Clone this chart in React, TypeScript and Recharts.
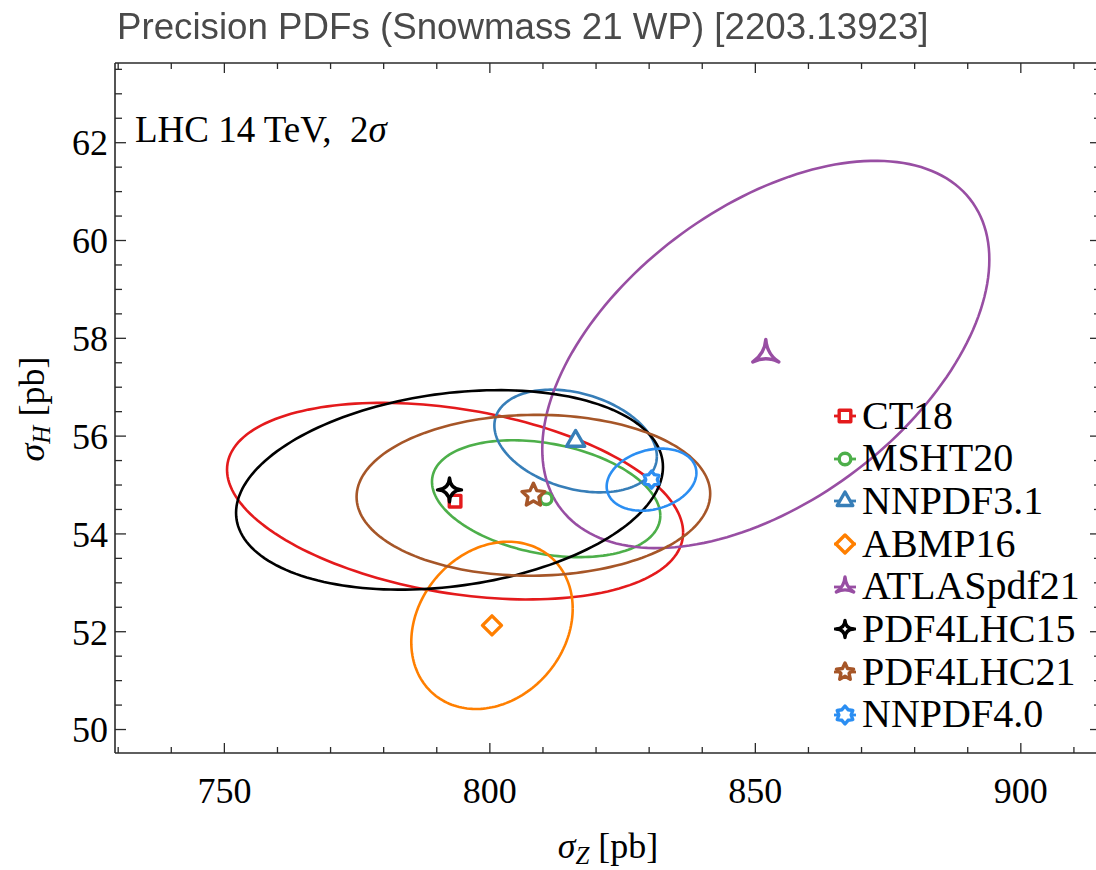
import React from 'react';
import { ComposedChart, Scatter, XAxis, YAxis, Legend, Label } from 'recharts';

// ---------------- data ----------------
const pdfNames = ['CT18', 'MSHT20', 'NNPDF3.1', 'ABMP16', 'ATLASpdf21', 'PDF4LHC15', 'PDF4LHC21', 'NNPDF4.0'];
// central values
const sigmaZ = [793.45, 810.6, 816.15, 800.4, 851.97, 792.4, 808.2, 830.45];
const sigmaH = [54.67, 54.72, 55.9, 52.13, 57.67, 54.9, 54.79, 55.11];
// 2-sigma half extents of each ellipse and the Z-H correlation
const errZ2s = [42.95, 21.5, 15.3, 15.2, 42.1, 40.2, 33.3, 8.45];
const errH2s = [2.01, 1.195, 1.05, 1.71, 3.96, 2.04, 1.645, 0.635];
const corrZH = [-0.32, -0.29, -0.3, 0.2, 0.49, 0.23, 0.02, 0.22];

const xMajorTicks = [750, 800, 850, 900];
const xMinorTicks = [730, 740, 760, 770, 780, 790, 810, 820, 830, 840, 860, 870, 880, 890, 910];
const yMajorTicks = [50, 52, 54, 56, 58, 60, 62];
const yMinorTicks = [50.5, 51, 51.5, 52.5, 53, 53.5, 54.5, 55, 55.5, 56.5, 57, 57.5, 58.5, 59, 59.5, 60.5, 61, 61.5, 62.5, 63, 63.5];

const titleText = 'Precision PDFs (Snowmass 21 WP) [2203.13923]';

// ---------------- styles ----------------
const colors = ['#e41a1c', '#4daf4a', '#377eb8', '#ff7f00', '#984ea3', '#000000', '#a65628', '#2b8ef2'];
const markerKinds = ['square', 'circle', 'triangle', 'diamond', 'tristar', 'fourstar', 'fivestar', 'sixstar'];
const plotMarkerSize = [5.8, 5.8, 10.5, 9.5, 15, 12, 12, 8.5];
const legendMarkerSize = [5.8, 5.8, 9, 9, 10, 8.5, 9, 9];

const X_DOMAIN: [number, number] = [729.4, 915.1];
const Y_DOMAIN: [number, number] = [49.52, 63.63];
const SERIF = '"Liberation Serif", "Times New Roman", serif';
const FRAME = '#2a2a2a';

// ellipse outlines built from the centre / half-widths / correlation
const ellipseData = pdfNames.map((_, i) => {
  const pts: { x: number; y: number }[] = [];
  const s = Math.sqrt(1 - corrZH[i] * corrZH[i]);
  const n = 180;
  for (let k = 0; k <= n; k++) {
    const t = (2 * Math.PI * k) / n;
    pts.push({
      x: sigmaZ[i] + errZ2s[i] * Math.cos(t),
      y: sigmaH[i] + errH2s[i] * (corrZH[i] * Math.cos(t) + s * Math.sin(t)),
    });
  }
  return pts;
});
const centerData = pdfNames.map((_, i) => [{ x: sigmaZ[i], y: sigmaH[i] }]);

function MarkerGlyph({ kind, cx, cy, color, R }: { kind: string; cx: number; cy: number; color: string; R: number }) {
  const common = { fill: '#ffffff', stroke: color, strokeWidth: 3.4, strokeLinejoin: 'round' as const };
  const p = (r: number, deg: number) => [cx + r * Math.cos((deg * Math.PI) / 180), cy + r * Math.sin((deg * Math.PI) / 180)];
  const ps = (r: number, deg: number) => p(r, deg).join(',');
  switch (kind) {
    case 'square':
      return <rect x={cx - R} y={cy - R} width={2 * R} height={2 * R} {...common} />;
    case 'circle':
      return <circle cx={cx} cy={cy} r={R} {...common} />;
    case 'triangle':
      return <polygon points={[ps(R, -90), ps(R, 30), ps(R, 150)].join(' ')} {...common} />;
    case 'diamond':
      return <polygon points={[ps(R, -90), ps(R, 0), ps(R, 90), ps(R, 180)].join(' ')} {...common} />;
    case 'tristar': {
      const tips = [-90, 30, 150];
      const c = R * 0.08;
      let d = `M${ps(R, tips[0])}`;
      for (let k = 0; k < 3; k++) {
        d += ` Q${ps(c, tips[k] + 60)} ${ps(R, tips[(k + 1) % 3])}`;
      }
      return <path d={d + 'Z'} {...common} />;
    }
    case 'fourstar': {
      const tips = [-90, 0, 90, 180];
      const c = R * 0.08;
      let d = `M${ps(R, tips[0])}`;
      for (let k = 0; k < 4; k++) {
        d += ` Q${ps(c, tips[k] + 45)} ${ps(R, tips[(k + 1) % 4])}`;
      }
      return <path d={d + 'Z'} {...common} />;
    }
    case 'fivestar': {
      const pts: string[] = [];
      for (let k = 0; k < 10; k++) pts.push(ps(k % 2 === 0 ? R : R * 0.48, -90 + k * 36));
      return <polygon points={pts.join(' ')} {...common} />;
    }
    case 'sixstar': {
      const pts: string[] = [];
      for (let k = 0; k < 12; k++) pts.push(ps(k % 2 === 0 ? R : R * 0.68, -90 + k * 30));
      return <polygon points={pts.join(' ')} {...common} />;
    }
    default:
      return <g />;
  }
}

const EmptyShape = () => <g />;
const NoTick = () => <g />;

function LegendContent() {
  return (
    <div style={{ fontFamily: SERIF, fontSize: 40, color: '#000' }}>
      {pdfNames.map((name, i) => (
        <div key={name} style={{ display: 'flex', alignItems: 'center', height: 42.7, lineHeight: '42.7px', whiteSpace: 'nowrap' }}>
          <svg width={24} height={26} style={{ marginRight: 5, flex: 'none' }}>
            <line x1={1} y1={13} x2={23} y2={13} stroke={colors[i]} strokeWidth={2.8} />
            <MarkerGlyph kind={markerKinds[i]} cx={12} cy={13} color={colors[i]} R={legendMarkerSize[i]} />
          </svg>
          <span>{name}</span>
        </div>
      ))}
    </div>
  );
}

function XTitle(props: any) {
  const vb = props.viewBox || { x: 107, y: 745, width: 986, height: 117 };
  return (
    <text x={vb.x + vb.width / 2} y={vb.y + 105} textAnchor="middle" fontFamily={SERIF} fontSize={36} fill="#000">
      <tspan fontStyle="italic">σ</tspan>
      <tspan fontStyle="italic" fontSize={25} dy={6}>Z</tspan>
      <tspan dy={-6}>{'\u00a0[pb]'}</tspan>
    </text>
  );
}

function YTitle(props: any) {
  const vb = props.viewBox || { x: 0, y: 55, width: 107, height: 690 };
  const cx = 36;
  const cy = vb.y + vb.height / 2 + 1;
  return (
    <text x={cx} y={cy} transform={`rotate(-90, ${cx}, ${cy})`} textAnchor="middle" fontFamily={SERIF} fontSize={36} fill="#000">
      <tspan fontStyle="italic">σ</tspan>
      <tspan fontStyle="italic" fontSize={25} dy={6}>H</tspan>
      <tspan dy={-6}>{'\u00a0[pb]'}</tspan>
    </text>
  );
}

export default function App() {
  const tickLineStyle = { stroke: FRAME, strokeWidth: 1.3 };
  const frameLine = { stroke: FRAME, strokeWidth: 1.6 };
  const thin = 0.01; // mirrored tick axes take no room
  return (
    <div>
      <div style={{ position: 'fixed', left: 8, top: 8, width: 1088, height: 862, overflow: 'hidden', background: '#fff' }}>
        <ComposedChart width={1094} height={862} margin={{ top: 55, right: 1, bottom: 0, left: 0 }}>
          {/* main axes with labels */}
          <XAxis
            xAxisId="main"
            dataKey="x"
            type="number"
            domain={X_DOMAIN}
            allowDataOverflow
            ticks={xMajorTicks}
            interval={0}
            height={117}
            tickLine={false}
            tickSize={0}
            tickMargin={24}
            axisLine={frameLine}
            tick={{ fontSize: 36, fontFamily: SERIF, fill: '#000' }}
          >
            <Label content={XTitle} />
          </XAxis>
          <YAxis
            yAxisId="main"
            dataKey="y"
            type="number"
            domain={Y_DOMAIN}
            allowDataOverflow
            ticks={yMajorTicks}
            interval={0}
            width={107}
            tickLine={false}
            tickSize={0}
            tickMargin={7}
            axisLine={frameLine}
            tick={{ fontSize: 36, fontFamily: SERIF, fill: '#000' }}
          >
            <Label content={YTitle} />
          </YAxis>

          {/* inward frame ticks */}
          <XAxis xAxisId="bMaj" type="number" dataKey="x" domain={X_DOMAIN} allowDataOverflow orientation="bottom" mirror height={thin} ticks={xMajorTicks} interval={0} tickSize={10} tick={NoTick} axisLine={false} tickLine={tickLineStyle} />
          <XAxis xAxisId="bMin" type="number" dataKey="x" domain={X_DOMAIN} allowDataOverflow orientation="bottom" mirror height={thin} ticks={xMinorTicks} interval={0} tickSize={6} tick={NoTick} axisLine={false} tickLine={tickLineStyle} />
          <XAxis xAxisId="tMaj" type="number" dataKey="x" domain={X_DOMAIN} allowDataOverflow orientation="top" mirror height={thin} ticks={xMajorTicks} interval={0} tickSize={10} tick={NoTick} axisLine={frameLine} tickLine={tickLineStyle} />
          <XAxis xAxisId="tMin" type="number" dataKey="x" domain={X_DOMAIN} allowDataOverflow orientation="top" mirror height={thin} ticks={xMinorTicks} interval={0} tickSize={6} tick={NoTick} axisLine={false} tickLine={tickLineStyle} />
          <YAxis yAxisId="lMaj" type="number" dataKey="y" domain={Y_DOMAIN} allowDataOverflow orientation="left" mirror width={thin} ticks={yMajorTicks} interval={0} tickSize={11} tick={NoTick} axisLine={false} tickLine={tickLineStyle} />
          <YAxis yAxisId="lMin" type="number" dataKey="y" domain={Y_DOMAIN} allowDataOverflow orientation="left" mirror width={thin} ticks={yMinorTicks} interval={0} tickSize={7} tick={NoTick} axisLine={false} tickLine={tickLineStyle} />
          <YAxis yAxisId="rMaj" type="number" dataKey="y" domain={Y_DOMAIN} allowDataOverflow orientation="right" mirror width={thin} ticks={yMajorTicks} interval={0} tickSize={11} tick={NoTick} axisLine={false} tickLine={tickLineStyle} />
          <YAxis yAxisId="rMin" type="number" dataKey="y" domain={Y_DOMAIN} allowDataOverflow orientation="right" mirror width={thin} ticks={yMinorTicks} interval={0} tickSize={7} tick={NoTick} axisLine={false} tickLine={tickLineStyle} />

          {/* 2-sigma ellipses */}
          {pdfNames.map((name, i) => (
            <Scatter
              key={'ell-' + name}
              name={name + ' ellipse'}
              xAxisId="main"
              yAxisId="main"
              data={ellipseData[i]}
              fill={colors[i]}
              line={{ stroke: colors[i], strokeWidth: 2.6, fill: 'none' }}
              lineJointType="linear"
              shape={EmptyShape}
              legendType="none"
              isAnimationActive={false}
            />
          ))}

          {/* central values */}
          {pdfNames.map((name, i) => (
            <Scatter
              key={'pt-' + name}
              name={name}
              xAxisId="main"
              yAxisId="main"
              data={centerData[i]}
              fill={colors[i]}
              shape={(p: any) => <MarkerGlyph kind={markerKinds[i]} cx={p.cx} cy={p.cy} color={colors[i]} R={plotMarkerSize[i]} />}
              isAnimationActive={false}
            />
          ))}

          <Legend
            layout="vertical"
            align="center"
            verticalAlign="middle"
            content={LegendContent}
            wrapperStyle={{ left: 825, top: 386.6, width: 262, right: 'auto', bottom: 'auto' }}
          />
        </ComposedChart>
        <div
          style={{
            position: 'absolute',
            left: 127,
            top: 103.5,
            fontFamily: SERIF,
            fontSize: 37,
            lineHeight: '36px',
            color: '#000',
            whiteSpace: 'pre',
            zIndex: 2,
          }}
        >
          {'LHC 14 TeV,  2'}<span style={{ fontStyle: 'italic' }}>σ</span>
        </div>
      </div>
      <div
        style={{
          position: 'fixed',
          left: 117,
          top: 6,
          fontFamily: '"Liberation Sans", Arial, sans-serif',
          fontSize: 36.7,
          lineHeight: '42px',
          color: '#4a4a4a',
          whiteSpace: 'nowrap',
          zIndex: 3,
        }}
      >
        {titleText}
      </div>
    </div>
  );
}
